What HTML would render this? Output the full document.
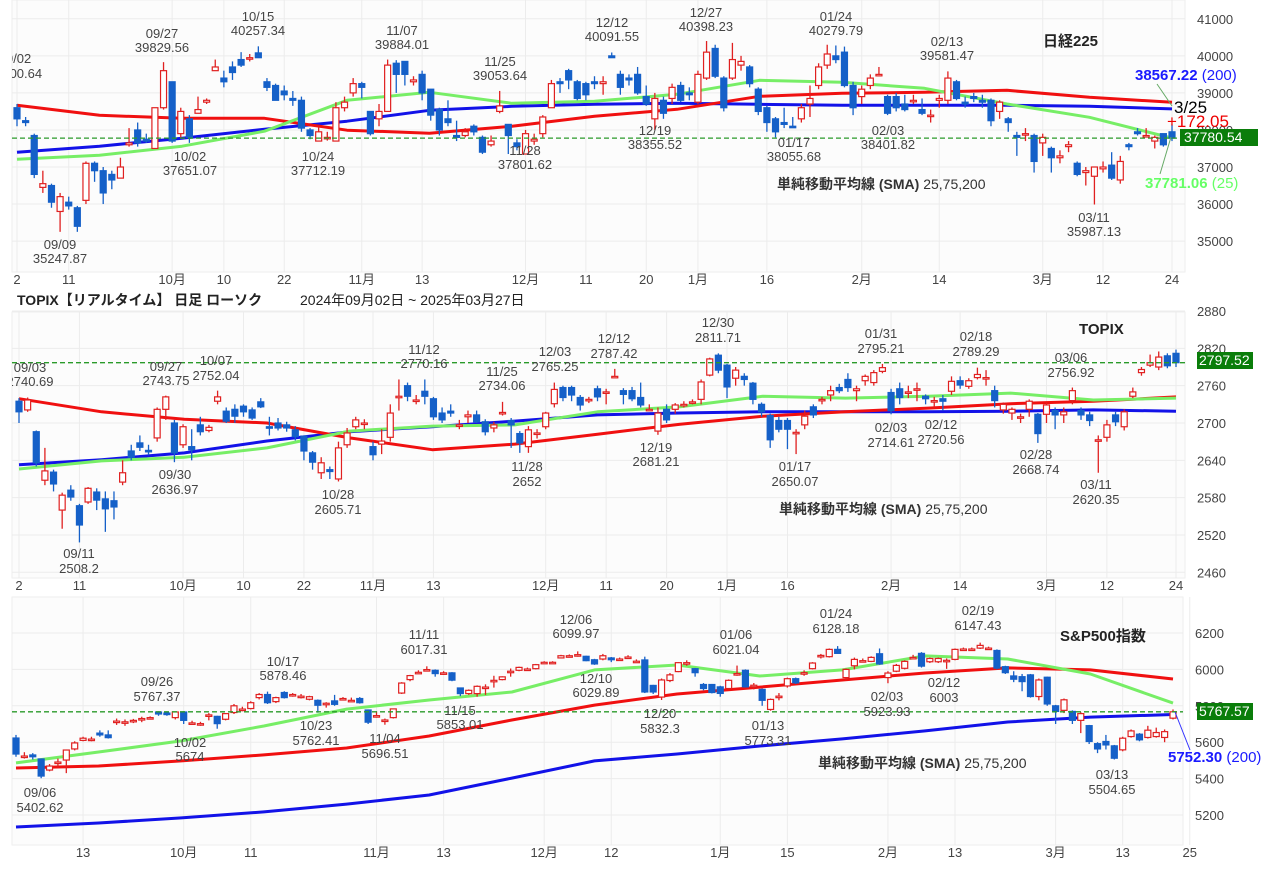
<!DOCTYPE html>
<html><head><meta charset="utf-8">
<style>
html,body{margin:0;padding:0;background:#fff;width:1280px;height:869px;overflow:hidden}
svg{display:block;font-family:"Liberation Sans","Noto Sans CJK JP",sans-serif}
.lb{font-size:13px;fill:#444;text-anchor:middle}
.ax{font-size:13px;fill:#444}
.xt{font-size:13px;fill:#444;text-anchor:middle}
</style></head>
<body>
<svg id="chart" width="1280" height="869" viewBox="0 0 1280 869">
<defs>
<clipPath id="c1"><rect x="12" y="0" width="1175" height="272"/></clipPath>
<clipPath id="c2"><rect x="12" y="312" width="1175" height="268"/></clipPath>
<clipPath id="c3"><rect x="12" y="597" width="1175" height="250"/></clipPath>
</defs>
<g id="grid"></g>
<g id="marks"></g>
<g id="static">
<!-- panel 1 labels -->
<g clip-path="url(#c1)">
<text class="lb" x="15" y="63">09/02</text><text class="lb" x="15" y="78">38700.64</text>
<text class="lb" x="162" y="38">09/27</text><text class="lb" x="162" y="52">39829.56</text>
<text class="lb" x="258" y="21">10/15</text><text class="lb" x="258" y="35">40257.34</text>
<text class="lb" x="402" y="35">11/07</text><text class="lb" x="402" y="49">39884.01</text>
<text class="lb" x="500" y="66">11/25</text><text class="lb" x="500" y="80">39053.64</text>
<text class="lb" x="612" y="27">12/12</text><text class="lb" x="612" y="41">40091.55</text>
<text class="lb" x="706" y="17">12/27</text><text class="lb" x="706" y="31">40398.23</text>
<text class="lb" x="836" y="21">01/24</text><text class="lb" x="836" y="35">40279.79</text>
<text class="lb" x="947" y="46">02/13</text><text class="lb" x="947" y="60">39581.47</text>
<text class="lb" x="60" y="249">09/09</text><text class="lb" x="60" y="263">35247.87</text>
<text class="lb" x="190" y="161">10/02</text><text class="lb" x="190" y="175">37651.07</text>
<text class="lb" x="318" y="161">10/24</text><text class="lb" x="318" y="175">37712.19</text>
<text class="lb" x="525" y="155">11/28</text><text class="lb" x="525" y="169">37801.62</text>
<text class="lb" x="655" y="135">12/19</text><text class="lb" x="655" y="149">38355.52</text>
<text class="lb" x="794" y="147">01/17</text><text class="lb" x="794" y="161">38055.68</text>
<text class="lb" x="888" y="135">02/03</text><text class="lb" x="888" y="149">38401.82</text>
<text class="lb" x="1094" y="222">03/11</text><text class="lb" x="1094" y="236">35987.13</text>
</g>
<text x="1043" y="46" style="font-size:15px;font-weight:bold;fill:#222">日経225</text>
<text x="777" y="189" style="font-size:14px;fill:#333"><tspan font-weight="bold">単純移動平均線 (SMA)</tspan> 25,75,200</text>
<text x="1135" y="80" style="font-size:15px;font-weight:bold;fill:#1a1aff">38567.22 <tspan font-weight="normal">(200)</tspan></text>
<text x="1145" y="188" style="font-size:15px;font-weight:bold;fill:#6f6">37781.06 <tspan font-weight="normal">(25)</tspan></text>
<text x="1174" y="113" style="font-size:17px;fill:#000">3/25</text>
<text x="1167" y="127" style="font-size:17px;fill:#e00">+172.05</text>
<line x1="1157" y1="84" x2="1172" y2="106" stroke="#6a6" stroke-width="1"/>
<line x1="1160" y1="174" x2="1171" y2="137" stroke="#6a6" stroke-width="1"/>
<rect x="1180" y="129" width="78" height="17" fill="#0a7d0a"/>
<text x="1184" y="142" style="font-size:14px;fill:#fff">37780.54</text>

<text x="17" y="305" style="font-size:14px;font-weight:bold;fill:#222">TOPIX【リアルタイム】 日足 ローソク</text>
<text x="300" y="305" style="font-size:14px;fill:#222">2024年09月02日 ~ 2025年03月27日</text>

<g clip-path="url(#c2)">
<text class="lb" x="30" y="372">09/03</text><text class="lb" x="30" y="386">2740.69</text>
<text class="lb" x="166" y="371">09/27</text><text class="lb" x="166" y="385">2743.75</text>
<text class="lb" x="216" y="365">10/07</text><text class="lb" x="216" y="380">2752.04</text>
<text class="lb" x="424" y="354">11/12</text><text class="lb" x="424" y="368">2770.16</text>
<text class="lb" x="502" y="376">11/25</text><text class="lb" x="502" y="390">2734.06</text>
<text class="lb" x="555" y="356">12/03</text><text class="lb" x="555" y="371">2765.25</text>
<text class="lb" x="614" y="343">12/12</text><text class="lb" x="614" y="358">2787.42</text>
<text class="lb" x="718" y="327">12/30</text><text class="lb" x="718" y="342">2811.71</text>
<text class="lb" x="881" y="338">01/31</text><text class="lb" x="881" y="353">2795.21</text>
<text class="lb" x="976" y="341">02/18</text><text class="lb" x="976" y="356">2789.29</text>
<text class="lb" x="1071" y="362">03/06</text><text class="lb" x="1071" y="377">2756.92</text>
<text class="lb" x="175" y="479">09/30</text><text class="lb" x="175" y="494">2636.97</text>
<text class="lb" x="338" y="499">10/28</text><text class="lb" x="338" y="514">2605.71</text>
<text class="lb" x="527" y="471">11/28</text><text class="lb" x="527" y="486">2652</text>
<text class="lb" x="656" y="452">12/19</text><text class="lb" x="656" y="466">2681.21</text>
<text class="lb" x="795" y="471">01/17</text><text class="lb" x="795" y="486">2650.07</text>
<text class="lb" x="891" y="432">02/03</text><text class="lb" x="891" y="447">2714.61</text>
<text class="lb" x="941" y="429">02/12</text><text class="lb" x="941" y="444">2720.56</text>
<text class="lb" x="1036" y="459">02/28</text><text class="lb" x="1036" y="474">2668.74</text>
<text class="lb" x="1096" y="489">03/11</text><text class="lb" x="1096" y="504">2620.35</text>
<text class="lb" x="79" y="558">09/11</text><text class="lb" x="79" y="573">2508.2</text>
</g>
<text x="1079" y="334" style="font-size:15px;font-weight:bold;fill:#222">TOPIX</text>
<text x="779" y="514" style="font-size:14px;fill:#333"><tspan font-weight="bold">単純移動平均線 (SMA)</tspan> 25,75,200</text>
<rect x="1197" y="352" width="56" height="17" fill="#0a7d0a"/>
<text x="1199" y="365" style="font-size:14px;fill:#fff">2797.52</text>

<g clip-path="url(#c3)">
<text class="lb" x="157" y="686">09/26</text><text class="lb" x="157" y="701">5767.37</text>
<text class="lb" x="283" y="666">10/17</text><text class="lb" x="283" y="680">5878.46</text>
<text class="lb" x="424" y="639">11/11</text><text class="lb" x="424" y="654">6017.31</text>
<text class="lb" x="576" y="624">12/06</text><text class="lb" x="576" y="638">6099.97</text>
<text class="lb" x="736" y="639">01/06</text><text class="lb" x="736" y="654">6021.04</text>
<text class="lb" x="836" y="618">01/24</text><text class="lb" x="836" y="633">6128.18</text>
<text class="lb" x="978" y="615">02/19</text><text class="lb" x="978" y="630">6147.43</text>
<text class="lb" x="190" y="747">10/02</text><text class="lb" x="190" y="761">5674</text>
<text class="lb" x="316" y="730">10/23</text><text class="lb" x="316" y="745">5762.41</text>
<text class="lb" x="385" y="743">11/04</text><text class="lb" x="385" y="758">5696.51</text>
<text class="lb" x="460" y="715">11/15</text><text class="lb" x="460" y="729">5853.01</text>
<text class="lb" x="596" y="683">12/10</text><text class="lb" x="596" y="697">6029.89</text>
<text class="lb" x="660" y="718">12/20</text><text class="lb" x="660" y="733">5832.3</text>
<text class="lb" x="768" y="730">01/13</text><text class="lb" x="768" y="745">5773.31</text>
<text class="lb" x="887" y="701">02/03</text><text class="lb" x="887" y="716">5923.93</text>
<text class="lb" x="944" y="687">02/12</text><text class="lb" x="944" y="702">6003</text>
<text class="lb" x="1112" y="779">03/13</text><text class="lb" x="1112" y="794">5504.65</text>
<text class="lb" x="40" y="797">09/06</text><text class="lb" x="40" y="812">5402.62</text>
</g>
<text x="1060" y="641" style="font-size:15px;font-weight:bold;fill:#222">S&amp;P500指数</text>
<text x="818" y="768" style="font-size:14px;fill:#333"><tspan font-weight="bold">単純移動平均線 (SMA)</tspan> 25,75,200</text>
<text x="1168" y="762" style="font-size:15px;font-weight:bold;fill:#1a1aff">5752.30 <tspan font-weight="normal">(200)</tspan></text>
<line x1="1175" y1="712" x2="1190" y2="750" stroke="#33f" stroke-width="1"/>
<rect x="1197" y="703" width="56" height="17" fill="#0a7d0a"/>
<text x="1199" y="716" style="font-size:14px;fill:#fff">5767.57</text>
</g>
</svg>
<script>
// ===== Nikkei data =====
const nkOpen=[38600,38250,37850,36450,36500,35800,36050,35900,36100,37100,36900,36800,36700,37600,38000,37750,37500,38600,39300,37900,38300,38450,38750,39600,39400,39700,39900,39950,40080,39300,39200,39050,38850,38800,38000,37700,37800,37700,38600,39000,39250,38500,38300,38500,39800,39850,39300,39500,39100,38550,38300,37850,37850,38100,37800,37600,38500,38150,37650,37350,37700,37900,38600,39300,39600,39300,39250,39300,39250,40000,39500,39400,39500,38900,38300,38800,38850,39200,39000,38750,39400,40200,39400,39400,39750,39700,39100,38600,38300,38200,38100,38300,38700,39200,39750,40000,40100,39200,38900,39200,39500,38900,38900,38700,38800,38550,38400,38800,38800,39300,38750,38900,38800,38800,38500,38300,37850,37900,37850,37650,37500,37250,37550,37100,36850,36750,36950,37050,36650,37600,37950,37850,37700,37900,37950];
const nkClose=[38300,38200,36800,36550,36050,36200,35950,35400,37100,36900,36300,36650,37000,37650,37650,37700,38600,39600,37700,38500,37800,38550,38800,39700,39300,39550,39750,39950,39950,39150,38800,38950,38800,38050,37850,37950,37800,38600,38750,39250,39150,37900,38500,39750,39500,39500,39350,39000,38400,38000,38200,37800,37950,37950,37400,37700,38650,37850,37550,37900,37750,38350,39250,39250,39350,38850,38950,39250,39300,39950,39150,39350,39000,38700,38850,38450,39150,38800,38950,39500,40100,39450,38600,39900,39850,39250,38500,38200,37950,38150,38080,38600,38850,39700,40050,39900,39200,38600,39100,39400,39500,38450,38600,38550,38800,38450,38400,38850,39400,38850,38700,38850,38750,38250,38750,38200,37800,37900,37150,37800,37250,37300,37600,36800,36900,37000,37000,36700,37150,37550,37900,37850,37800,37600,37780];
const nkHigh=[38700,38350,37900,36900,36550,36300,36200,35950,37150,37150,37000,36900,37250,38050,38200,37900,38600,39830,39300,38600,38400,38900,38850,39900,39600,39850,40100,40050,40257,39400,39250,39200,39050,38900,38050,38100,37950,38750,38900,39400,39300,38500,38700,39900,39884,39850,39450,39600,39100,38600,38800,38250,38050,38150,37850,37850,39053,38150,37750,38000,37900,38400,39350,39400,39650,39350,39300,39450,39450,40091,39600,39500,39700,39200,39000,38900,39250,39300,39150,39600,40400,40300,39450,40350,40000,39750,39150,38650,38350,38600,38350,38700,39200,39800,40300,40280,40250,39300,39200,39500,39700,38950,39000,38950,38950,38850,38550,38950,39581,39350,38900,39000,38950,38850,38800,38350,37950,38050,37900,37900,37550,37450,37700,37150,37000,37000,37150,37400,37300,37650,38050,38050,37850,37900,38150];
const nkLow=[38100,38100,36700,36300,35900,35250,35850,35250,36000,36600,36000,36400,36700,37550,37550,37650,37500,38550,37651,37800,37651,38450,38700,39600,39150,39350,39700,39850,39950,39050,38800,38800,38650,37950,37750,37712,37712,37700,38500,38900,38850,37850,38100,38500,39000,39200,39200,38800,38250,37850,38100,37700,37800,37850,37350,37550,38450,37350,37450,37801,37600,37800,38600,39000,39100,38800,38800,39100,38950,39950,38950,39200,38950,38650,38000,38300,38700,38750,38800,38700,39350,39400,38500,39350,39600,39150,38400,37950,37800,38050,38055,38200,38350,39100,39650,39800,39150,38400,38700,39100,39450,38401,38500,38500,38700,38400,38200,38600,38700,38800,38600,38750,38600,38100,38300,37950,37300,37700,36850,37300,36850,37100,37400,36750,36500,35987,36850,36650,36550,37450,37850,37800,37500,37550,37700];
const nkSma25=[37210,37318,37561,37965,38801,39016,38720,38774,38962,39340,39286,39124,38700,38342,37781];
const nkSma75=[38666,38396,38315,38315,37992,37911,38100,38369,38558,38908,38989,39016,39070,38881,38747];
const nkSma200=[37399,37561,37776,38019,38235,38531,38639,38693,38720,38693,38666,38666,38666,38639,38567];
const nkYTicks=[41000,40000,39000,38000,37000,36000,35000];
const nkXTicks=["2","11","10月","10","22","11月","13","12月","11","20","1月","16","2月","14","3月","12","24"];
const nkXTickIdx=[0,6,18,24,31,40,47,59,66,73,79,87,98,107,119,126,134];

// ===== TOPIX data =====
const tpOpen=[2735,2721,2686,2608,2621,2560,2592,2567,2573,2589,2578,2575,2605,2655,2668,2656,2676,2722,2700,2665,2662,2697,2688,2735,2719,2722,2727,2721,2734,2694,2700,2697,2689,2679,2652,2620,2625,2610,2665,2694,2700,2662,2666,2677,2743,2760,2737,2751,2739,2716,2719,2697,2710,2713,2702,2692,2717,2704,2683,2662,2684,2694,2731,2757,2757,2741,2738,2755,2748,2775,2752,2752,2741,2722,2687,2722,2722,2730,2734,2738,2777,2809,2793,2772,2775,2764,2730,2712,2704,2704,2685,2697,2726,2738,2745,2757,2770,2752,2768,2765,2783,2749,2755,2750,2755,2743,2736,2739,2751,2768,2759,2773,2773,2752,2721,2716,2710,2722,2714,2714,2720,2713,2736,2720,2713,2673,2677,2713,2694,2743,2781,2793,2790,2808,2812];
const tpClose=[2718,2737,2636,2623,2602,2584,2581,2536,2595,2576,2562,2565,2620,2645,2661,2655,2722,2742,2652,2694,2657,2686,2693,2742,2703,2711,2718,2708,2726,2693,2692,2692,2678,2655,2637,2636,2622,2660,2684,2705,2700,2649,2671,2716,2743,2743,2737,2743,2710,2705,2716,2697,2713,2702,2686,2697,2717,2697,2668,2689,2684,2716,2754,2741,2745,2729,2738,2742,2750,2775,2746,2739,2729,2722,2716,2705,2729,2730,2734,2766,2803,2785,2758,2785,2770,2738,2718,2673,2690,2690,2685,2711,2713,2738,2752,2752,2757,2755,2775,2781,2789,2720,2741,2750,2755,2739,2736,2735,2767,2761,2768,2778,2773,2736,2730,2722,2710,2735,2683,2729,2713,2718,2752,2713,2704,2673,2697,2702,2718,2750,2786,2797,2806,2792,2797];
const tpHigh=[2740,2741,2688,2660,2625,2588,2600,2570,2597,2595,2590,2590,2640,2665,2680,2665,2725,2744,2705,2698,2690,2710,2697,2752,2725,2730,2730,2725,2740,2710,2708,2702,2695,2680,2655,2645,2630,2670,2692,2710,2706,2670,2690,2730,2770,2765,2745,2770,2742,2725,2730,2705,2720,2720,2706,2702,2734,2708,2687,2695,2690,2718,2765,2760,2760,2745,2742,2760,2755,2787,2756,2758,2765,2730,2725,2730,2732,2735,2738,2770,2805,2812,2795,2790,2780,2766,2733,2715,2710,2708,2690,2720,2730,2742,2760,2763,2780,2760,2778,2785,2795,2755,2765,2760,2765,2746,2742,2745,2775,2775,2772,2789,2785,2760,2733,2725,2715,2738,2716,2733,2725,2725,2757,2725,2718,2680,2705,2718,2722,2757,2790,2810,2815,2812,2818];
const tpLow=[2700,2718,2630,2600,2590,2530,2575,2508,2570,2560,2525,2545,2600,2640,2655,2648,2670,2705,2637,2660,2640,2680,2685,2730,2700,2700,2710,2705,2724,2680,2688,2686,2672,2640,2625,2610,2610,2606,2660,2690,2690,2640,2650,2670,2720,2735,2730,2730,2705,2700,2710,2690,2700,2700,2680,2685,2712,2660,2652,2652,2675,2690,2725,2735,2735,2720,2732,2735,2730,2773,2730,2735,2725,2720,2681,2700,2715,2725,2730,2730,2775,2780,2740,2760,2760,2730,2710,2660,2685,2658,2650,2690,2708,2730,2735,2748,2750,2735,2760,2760,2780,2714,2730,2740,2735,2730,2725,2720,2745,2755,2755,2770,2760,2725,2715,2705,2700,2710,2668,2700,2690,2700,2730,2705,2695,2620,2670,2695,2688,2740,2776,2790,2785,2788,2790];
const tpSma25=[2626,2639,2645,2660,2687,2695,2697,2718,2726,2743,2740,2743,2748,2737,2740];
const tpSma75=[2739,2718,2706,2700,2676,2657,2666,2682,2698,2711,2718,2724,2731,2735,2742];
const tpSma200=[2633,2641,2652,2671,2686,2694,2703,2713,2716,2718,2718,2718,2719,2721,2719];
const tpYTicks=[2880,2820,2760,2700,2640,2580,2520,2460];
const tpXTicks=["2","11","10月","10","22","11月","13","12月","11","20","1月","16","2月","14","3月","12","24"];
const tpXTickIdx=[0,7,19,26,33,41,48,61,68,75,82,89,101,109,119,126,134];

// ===== S&P500 data =====
const spOpen=[5623,5524,5530,5508,5447,5485,5502,5563,5610,5617,5650,5640,5712,5712,5716,5722,5735,5766,5760,5735,5766,5706,5702,5750,5742,5726,5763,5782,5785,5845,5862,5823,5873,5862,5853,5836,5830,5814,5827,5840,5830,5840,5777,5746,5722,5735,5870,5944,5984,5999,5995,5981,5981,5898,5867,5867,5903,5940,5944,5990,5995,6002,6004,6039,6039,6063,6075,6081,6072,6053,6057,6063,6057,6068,6045,6052,5912,5848,5939,5988,6037,6004,5917,5917,5904,5895,5977,5995,5913,5890,5780,5853,5909,5949,5982,6004,6077,6070,6110,5955,6020,6048,6044,6086,5955,5990,6006,6066,6088,6042,6042,6050,6055,6112,6112,6117,6117,6104,6015,5964,5960,5970,5851,5957,5800,5775,5769,5720,5691,5592,5604,5580,5558,5631,5644,5626,5631,5626,5732];
const spClose=[5535,5524,5520,5414,5469,5491,5557,5596,5622,5617,5640,5625,5716,5712,5720,5730,5735,5755,5752,5766,5720,5706,5702,5750,5702,5757,5800,5782,5817,5862,5817,5845,5845,5862,5853,5850,5803,5814,5808,5840,5830,5817,5710,5746,5722,5783,5925,5966,5984,5999,5977,5981,5941,5867,5885,5907,5903,5940,5959,5990,6011,6002,6026,6039,6039,6075,6075,6081,6048,6030,6075,6053,6057,6068,6045,5876,5876,5942,5970,6037,6037,5982,5895,5873,5868,5940,5977,5904,5913,5830,5835,5853,5949,5926,5982,6035,6077,6110,6088,6000,6055,6048,6066,6030,5980,6022,6044,6066,6018,6060,6060,6050,6110,6112,6112,6132,6117,6007,5982,5946,5933,5851,5942,5810,5769,5833,5720,5757,5604,5563,5585,5512,5622,5662,5613,5666,5653,5658,5767];
const spHigh=[5640,5545,5540,5510,5480,5510,5560,5605,5630,5630,5665,5665,5730,5725,5728,5740,5742,5770,5767,5768,5770,5718,5712,5760,5745,5760,5810,5795,5825,5870,5878,5850,5880,5870,5865,5855,5835,5820,5860,5848,5845,5848,5780,5770,5730,5785,5930,5970,5995,6017,6000,5990,5985,5900,5890,5912,5918,5965,5962,6005,6015,6010,6030,6045,6045,6080,6082,6099,6075,6058,6085,6068,6065,6078,6055,6070,5915,5950,5980,6040,6050,6008,5925,5920,5910,5945,6021,6000,5925,5895,5840,5870,5955,5955,5995,6040,6085,6115,6128,6005,6065,6060,6072,6115,5990,6030,6050,6080,6095,6065,6065,6060,6115,6120,6120,6147,6125,6110,6020,5990,5975,5975,5950,5960,5805,5840,5775,5765,5695,5600,5640,5585,5630,5670,5650,5690,5680,5670,5780];
const spLow=[5520,5510,5505,5402,5440,5460,5430,5555,5605,5605,5630,5620,5695,5690,5705,5710,5725,5745,5745,5725,5700,5695,5690,5720,5674,5720,5755,5770,5780,5835,5810,5815,5840,5850,5840,5830,5762,5790,5800,5832,5822,5812,5700,5735,5696,5730,5865,5935,5975,5990,5960,5970,5935,5853,5860,5850,5860,5900,5940,5960,5990,5995,6000,6030,6032,6060,6068,6070,6045,6025,6050,6040,6050,6060,6040,5870,5865,5832,5930,5985,6020,5960,5885,5868,5850,5890,5965,5900,5890,5800,5773,5830,5900,5920,5965,6000,6060,6065,6085,5940,6000,6040,6040,6025,5924,5985,6000,6055,6010,6035,6035,6003,6050,6105,6105,6112,6110,6000,5975,5930,5880,5845,5830,5800,5700,5760,5700,5650,5590,5540,5560,5505,5550,5625,5605,5620,5625,5600,5725];
const spSma25=[5486,5546,5607,5689,5782,5832,5876,5997,6024,5964,5997,6074,6057,5975,5815];
const spSma75=[5458,5469,5497,5530,5568,5634,5722,5804,5865,5903,5942,5980,6008,5997,5947];
const spSma200=[5134,5156,5184,5217,5260,5310,5403,5497,5535,5579,5618,5662,5711,5738,5752];
const spYTicks=[6200,6000,5800,5600,5400,5200];
const spXTicks=["13","10月","11","11月","13","12月","12","1月","15","2月","13","3月","13","25"];
const spXTickIdx=[8,20,28,43,51,63,71,84,92,104,112,124,132,140];

const NS='http://www.w3.org/2000/svg';
const grid=document.getElementById('grid');
const marks=document.getElementById('marks');
function mk(tag,attrs,parent){const e=document.createElementNS(NS,tag);for(const k in attrs)e.setAttribute(k,attrs[k]);parent.appendChild(e);return e;}

function panel(p){
  const n=p.open.length;
  const step=(p.x1-p.x0)/(n-1);
  const xOf=i=>p.x0+i*step;
  const yOf=v=>p.yRef-(v-p.vRef)*p.k;
  // plot background
  const bg=mk('rect',{x:p.left,y:p.top,width:p.right-p.left,height:p.bottom-p.top,fill:'#fcfcfc',stroke:'#eee'},grid);
  
  
  p.yTicks.forEach(t=>{
    const y=yOf(t);
    if(y<p.top-8||y>p.bottom+8)return;
    mk('line',{x1:p.left,x2:p.right,y1:y,y2:y,stroke:'#ececec'},grid);
    const tx=mk('text',{x:p.right+12,y:y+5,class:'ax'},grid);
    tx.textContent=t;
    
    
  });
  p.xTicks.forEach((t,j)=>{
    const x=xOf(p.xTickIdx[j]);
    mk('line',{x1:x,x2:x,y1:p.top,y2:p.bottom,stroke:'#ececec'},grid);
    const tx=mk('text',{x:x,y:p.bottom+12,class:'xt'},grid);
    tx.textContent=t;
    
    
  });
  const g=mk('g',{'clip-path':'url(#'+p.clip+')'},marks);
  
  
  // MAs
  const maStep=(p.x1-p.x0)/(p.sma25.length-1);
  [[p.sma200,'#1212e8'],[p.sma75,'#f01010'],[p.sma25,'#77ee66']].forEach(([arr,col],m)=>{
    const d=arr.map((v,i)=>(i?'L':'M')+(p.x0+i*maStep).toFixed(1)+','+yOf(v).toFixed(1)).join('');
    const pl=mk('path',{d:d,fill:'none',stroke:col,'stroke-width':3,'stroke-linejoin':'round'},g);
    
    
  });
  // last price dashed line
  const ly=yOf(p.close[n-1]);
  const dl=mk('line',{x1:p.left,x2:p.right,y1:ly,y2:ly,stroke:'#2a9a2a','stroke-dasharray':'5,3','stroke-width':1.3},marks);
  
  
  // candles
  for(let i=0;i<n;i++){
    const o=p.open[i],c=p.close[i],h=p.high[i],l=p.low[i];
    const up=c>=o;const col=up?'#e02020':'#1560c8';
    const x=xOf(i);
    const cg=mk('g',{},g);
    
    
    mk('line',{x1:x,x2:x,y1:yOf(h),y2:yOf(l),stroke:col,'stroke-width':1.3},cg);
    const yt=yOf(Math.max(o,c)),yb=yOf(Math.min(o,c));
    mk('rect',{x:x-3,y:yt,width:6,height:Math.max(yb-yt,1.5),fill:up?'#fff':col,stroke:col,'stroke-width':1.2},cg);
  }
}
panel({name:'nikkei',open:nkOpen,close:nkClose,high:nkHigh,low:nkLow,sma25:nkSma25,sma75:nkSma75,sma200:nkSma200,
  yTicks:nkYTicks,xTicks:nkXTicks,xTickIdx:nkXTickIdx,x0:17,x1:1172,yRef:167,vRef:37000,k:0.03705,left:12,right:1185,top:0,bottom:272,clip:'c1'});
panel({name:'topix',open:tpOpen,close:tpClose,high:tpHigh,low:tpLow,sma25:tpSma25,sma75:tpSma75,sma200:tpSma200,
  yTicks:tpYTicks,xTicks:tpXTicks,xTickIdx:tpXTickIdx,x0:19,x1:1176,yRef:423,vRef:2700,k:0.622,left:12,right:1185,top:312,bottom:578,clip:'c2'});
panel({name:'sp500',open:spOpen,close:spClose,high:spHigh,low:spLow,sma25:spSma25,sma75:spSma75,sma200:spSma200,
  yTicks:spYTicks,xTicks:spXTicks,xTickIdx:spXTickIdx,x0:16,x1:1173,yRef:633,vRef:6200,k:0.182,left:12,right:1183,top:597,bottom:845,clip:'c3'});
</script>
</body></html>
